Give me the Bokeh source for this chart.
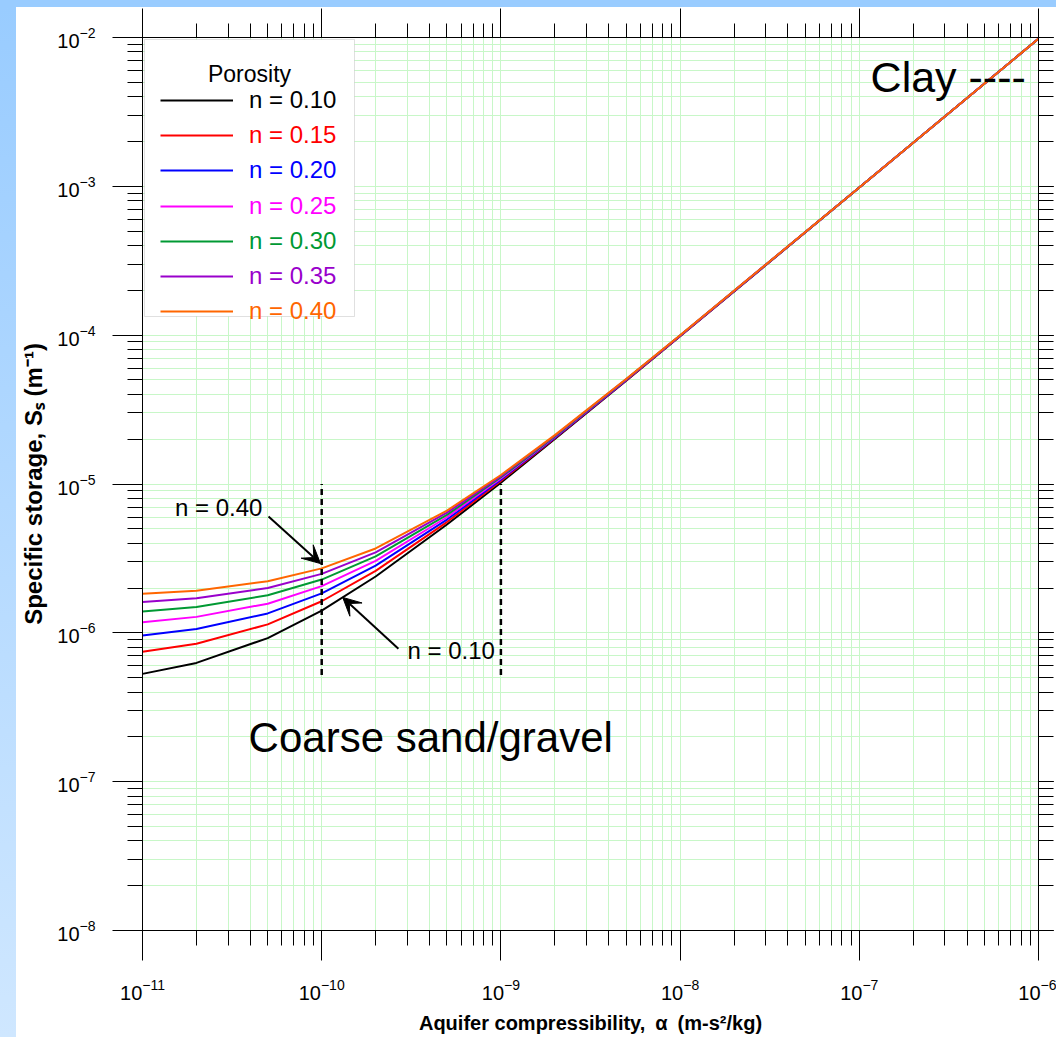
from bokeh.plotting import figure
from bokeh.models import (Range1d, LogAxis, LogTicker, Legend, LegendItem, Label,
                          BoxAnnotation, Arrow, VeeHead, Div, CustomJSTickFormatter)
from bokeh.layouts import row, column
from bokeh.embed import file_html
from bokeh.resources import INLINE

FONT = "Liberation Sans"

# ---------------- data ----------------
alpha = [1e-11, 2e-11, 5e-11, 1e-10, 2e-10, 5e-10, 1e-9, 2e-9, 5e-9, 1e-8, 1e-7, 1e-6]
ss_010 = [5.30e-7, 6.28e-7, 9.22e-7, 1.41e-6, 2.39e-6, 5.34e-6, 1.02e-5, 2.01e-5, 4.95e-5, 9.85e-5, 9.81e-4, 9.81e-3]
ss_015 = [7.46e-7, 8.44e-7, 1.14e-6, 1.63e-6, 2.61e-6, 5.55e-6, 1.05e-5, 2.03e-5, 4.97e-5, 9.87e-5, 9.82e-4, 9.81e-3]
ss_020 = [9.61e-7, 1.06e-6, 1.35e-6, 1.84e-6, 2.83e-6, 5.77e-6, 1.07e-5, 2.05e-5, 4.99e-5, 9.90e-5, 9.82e-4, 9.81e-3]
ss_025 = [1.18e-6, 1.28e-6, 1.57e-6, 2.06e-6, 3.04e-6, 5.98e-6, 1.09e-5, 2.07e-5, 5.01e-5, 9.92e-5, 9.82e-4, 9.81e-3]
ss_030 = [1.39e-6, 1.49e-6, 1.79e-6, 2.28e-6, 3.26e-6, 6.20e-6, 1.11e-5, 2.09e-5, 5.03e-5, 9.94e-5, 9.82e-4, 9.81e-3]
ss_035 = [1.61e-6, 1.71e-6, 2.00e-6, 2.49e-6, 3.47e-6, 6.42e-6, 1.13e-5, 2.11e-5, 5.06e-5, 9.96e-5, 9.83e-4, 9.81e-3]
ss_040 = [1.83e-6, 1.92e-6, 2.22e-6, 2.71e-6, 3.69e-6, 6.63e-6, 1.15e-5, 2.13e-5, 5.08e-5, 9.98e-5, 9.83e-4, 9.81e-3]

series = [ss_010, ss_015, ss_020, ss_025, ss_030, ss_035, ss_040]
labels = ["n = 0.10", "n = 0.15", "n = 0.20", "n = 0.25", "n = 0.30", "n = 0.35", "n = 0.40"]
colors = ["#000000", "#ff0000", "#0000ff", "#ff00ff", "#009933", "#9900cc", "#ff6600"]

# dashed range markers (coarse sand/gravel band)
dash_x = [1e-10, 1e-9]
dash_ybot = [5.2e-7, 5.2e-7]
dash_ytop = [1e-5, 1e-5]

# arrows: (x_start, y_start, x_end, y_end)
arrow_040 = (5.05e-11, 6.04e-6, 9.85e-11, 2.92e-6)
arrow_010 = (2.68e-10, 7.83e-7, 1.31e-10, 1.73e-6)

# ---------------- figure ----------------
BORDER_L, BORDER_T, BORDER_R, BORDER_B = 126, 30, 18, 107
FRAME_W, FRAME_H = 896, 893

p = figure(x_axis_type="log", y_axis_type="log",
           x_range=Range1d(1e-11, 1e-6), y_range=Range1d(1e-8, 1e-2),
           frame_width=FRAME_W, frame_height=FRAME_H,
           min_border_left=BORDER_L, min_border_right=BORDER_R,
           min_border_top=BORDER_T, min_border_bottom=BORDER_B,
           output_backend="svg", toolbar_location=None,
           background_fill_color="white", border_fill_color="white",
           outline_line_color="black")

GRID = "#c8f7c8"
for g in (p.xgrid, p.ygrid):
    g.grid_line_color = GRID
    g.minor_grid_line_color = GRID
    g.grid_line_width = 1
    g.minor_grid_line_width = 1


def style_axis(ax, major_out=30, minor_out=15):
    ax.axis_line_color = "black"
    ax.major_tick_line_color = "black"
    ax.minor_tick_line_color = "black"
    ax.major_tick_in = 0
    ax.minor_tick_in = 0
    ax.major_tick_out = major_out
    ax.minor_tick_out = minor_out
    ax.major_label_text_font = FONT
    ax.major_label_text_font_size = "20px"
    ax.major_label_text_color = "black"
    ax.axis_label_text_font = FONT
    ax.axis_label_text_font_style = "bold"
    ax.axis_label_text_font_size = "20px"
    ax.axis_label_text_color = "black"


xa = p.xaxis[0]
ya = p.yaxis[0]
style_axis(xa)
style_axis(ya)
xa.axis_label = "Aquifer compressibility,\u2002α\u2002(m-s²/kg)"
ya.axis_label = "Specific storage, Sₛ (m⁻¹)"
ya.axis_label_text_font_size = "24px"
xa.major_label_standoff = 18
xa.axis_label_standoff = 9
ya.major_label_standoff = 17
ya.axis_label_standoff = 7

blank = CustomJSTickFormatter(code="return ''")
top_ax = LogAxis(ticker=LogTicker(num_minor_ticks=10), formatter=blank)
style_axis(top_ax, 29, 14)
top_ax.major_label_text_font_size = "0px"
top_ax.major_label_standoff = 0
p.add_layout(top_ax, "above")

right_ax = LogAxis(ticker=LogTicker(num_minor_ticks=10), formatter=blank)
style_axis(right_ax, 15, 15)
right_ax.major_label_text_font_size = "0px"
right_ax.major_label_standoff = 0
p.add_layout(right_ax, "right")

# ---------------- curves ----------------
renderers = []
for ss, c in zip(series, colors):
    r = p.line(alpha, ss, line_color=c, line_width=2)
    renderers.append(r)

p.segment(x0=dash_x, y0=dash_ybot, x1=dash_x, y1=dash_ytop,
          line_color="black", line_width=2.5, line_dash="6 4")

for a in (arrow_040, arrow_010):
    p.add_layout(Arrow(x_start=a[0], y_start=a[1], x_end=a[2], y_end=a[3],
                       line_color="black", line_width=2,
                       end=VeeHead(size=18, fill_color="black", line_color="black")))

p.add_layout(Label(x=4.67e-11, y=6.93e-6, text="n = 0.40", text_align="right",
                   text_baseline="middle", text_font=FONT, text_font_size="24px",
                   text_color="black"))
p.add_layout(Label(x=3.01e-10, y=7.59e-7, text="n = 0.10", text_align="left",
                   text_baseline="middle", text_font=FONT, text_font_size="24px",
                   text_color="black"))
p.add_layout(Label(x=3.91e-11, y=1.98e-7, text="Coarse sand/gravel", text_align="left",
                   text_baseline="alphabetic", text_font=FONT, text_font_size="42px",
                   text_color="black"))
p.add_layout(Label(x=1.156e-7, y=5.39e-3, text="Clay ----", text_align="left",
                   text_baseline="alphabetic", text_font=FONT, text_font_size="43px",
                   text_color="black"))

# ---------------- legend ----------------
FRAME_BOTTOM_PAGE = 930   # page y of the frame's bottom edge

p.add_layout(BoxAnnotation(left=2, right=212, top=891, bottom=614,
                           left_units="screen", right_units="screen",
                           top_units="screen", bottom_units="screen",
                           fill_color="white", fill_alpha=1.0,
                           line_color="#999999", line_width=1))
p.add_layout(Label(x=107, y=857, x_units="screen", y_units="screen", text="Porosity",
                   text_align="center", text_baseline="alphabetic",
                   text_font=FONT, text_font_size="23px", text_color="black"))

ITEM_H = 26
for i, (r, lbl, c) in enumerate(zip(renderers, labels, colors)):
    center = 101 + 35.2 * i          # page-y of the row centre
    bottom_up = FRAME_BOTTOM_PAGE - (center + ITEM_H / 2)
    leg = Legend(items=[LegendItem(label=lbl, renderers=[r])],
                 location=(18, bottom_up), orientation="vertical",
                 border_line_color=None, background_fill_alpha=0,
                 padding=0, margin=0, spacing=0,
                 glyph_width=73, glyph_height=ITEM_H, label_height=ITEM_H,
                 label_standoff=16, label_text_color=c, label_text_font=FONT,
                 label_text_font_size="24px", label_text_baseline="middle")
    p.add_layout(leg)

# ---------------- page decoration (blue strips) ----------------
left_div = Div(text="", width=142 - BORDER_L, height=BORDER_T + FRAME_H + BORDER_B,
               margin=0, styles={"background": "linear-gradient(#99ccff,#cfe7ff)"})
top_div = Div(text="", width=1056, height=7, margin=0, styles={"background": "#99ccff"})

layout = column(top_div, row(left_div, p, spacing=0), spacing=0)
open("out.html", "w").write(file_html(layout, INLINE))
